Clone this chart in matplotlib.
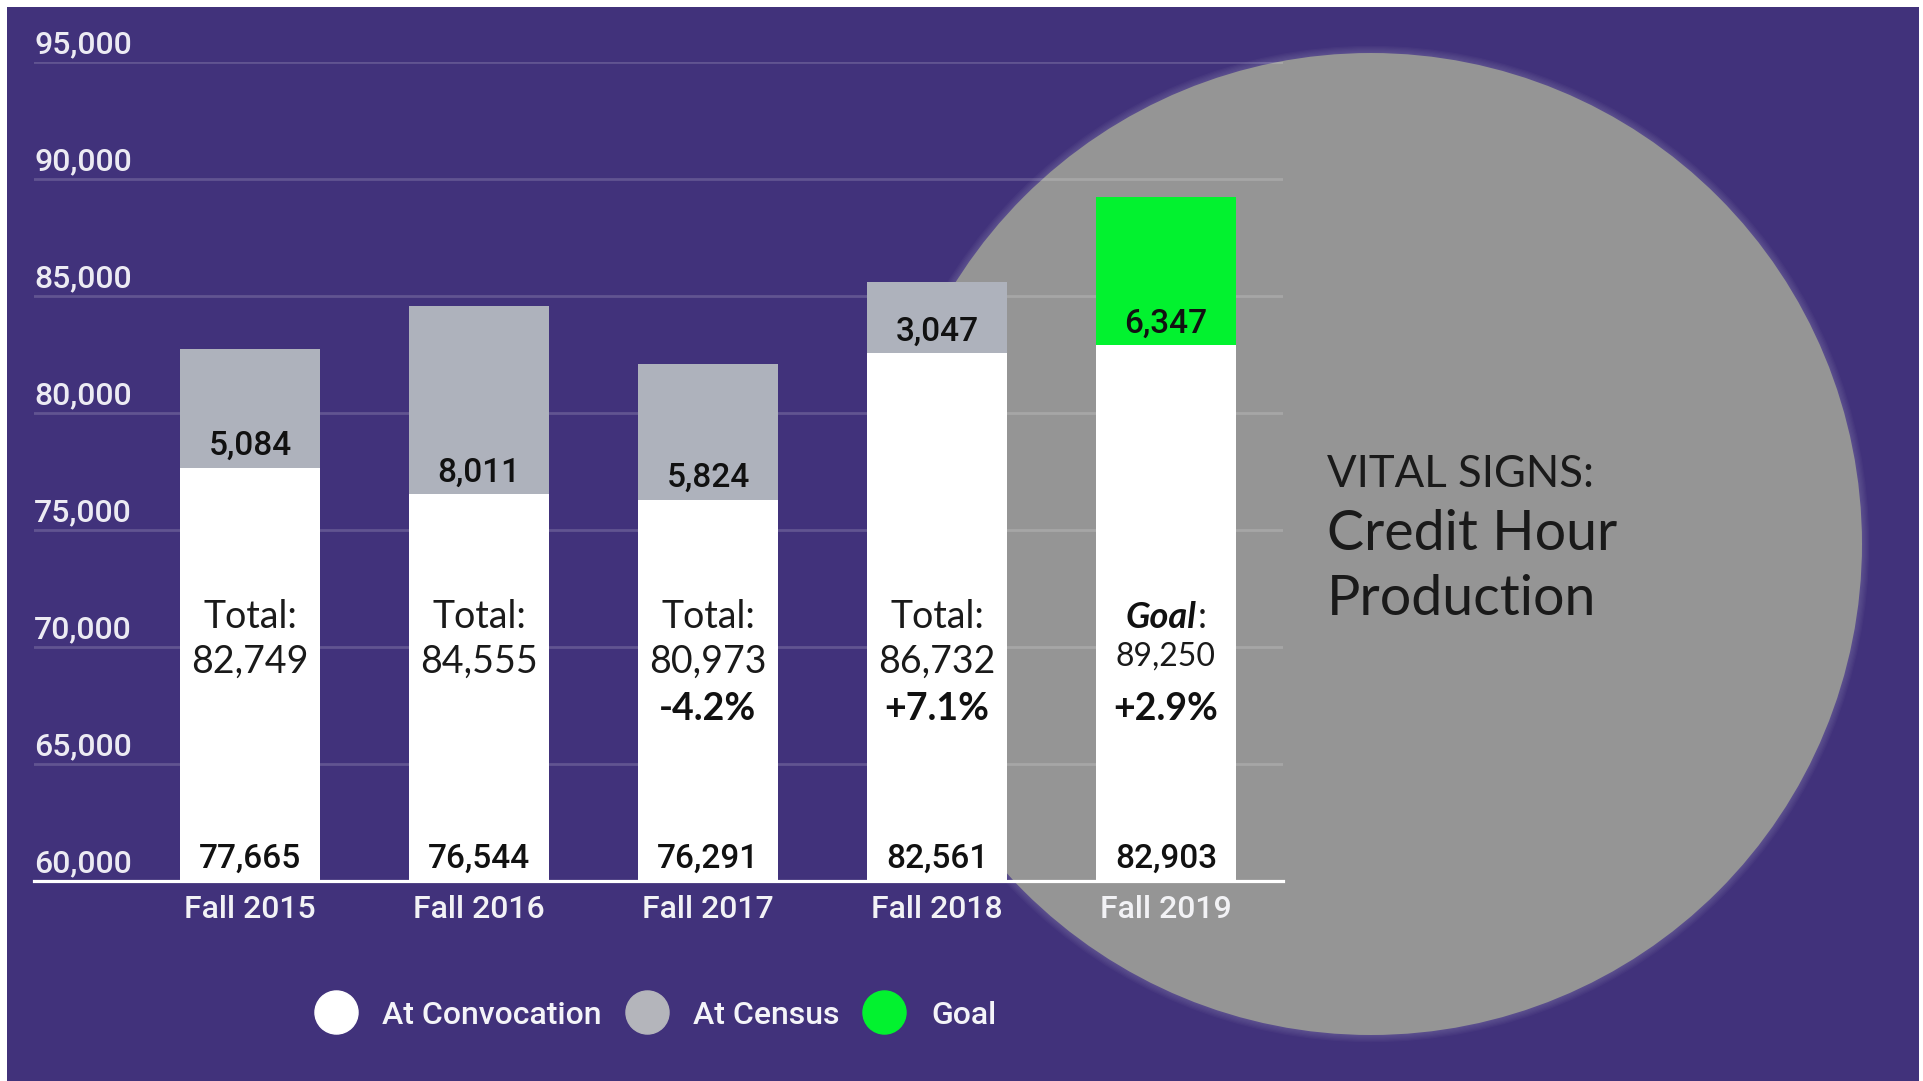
import matplotlib
matplotlib.use("Agg")
import matplotlib.pyplot as plt
from matplotlib.patches import Rectangle, Circle
from matplotlib.lines import Line2D
from matplotlib.transforms import blended_transform_factory

# ---------------- data ----------------
categories = ["Fall 2015", "Fall 2016", "Fall 2017", "Fall 2018", "Fall 2019"]
at_convocation = [77665, 76544, 76291, 82561, 82903]
at_census = [5084, 8011, 5824, 3047, 0]
goal = [0, 0, 0, 0, 6347]
totals = [82749, 84555, 80973, 86732, 89250]
changes = ["", "", "-4.2%", "+7.1%", "+2.9%"]
y_ticks = [60000, 65000, 70000, 75000, 80000, 85000, 90000, 95000]
legend_labels = ["At Convocation", "At Census", "Goal"]
title_lines = ["VITAL SIGNS:", "Credit Hour", "Production"]

# ---------------- style ----------------
PURPLE = "#41327b"
WHITE = "#ffffff"
CENSUS = "#aeb2bc"
GREEN = "#02f22f"
CIRCLE = "#959595"
NUMF = "Roboto"
TXTF = "Lato"
DARK = "#1a1a1a"

W, H = 1923, 1081
fig = plt.figure(figsize=(W / 100, H / 100), dpi=100)
fig.patch.set_facecolor("white")

# background layer in pixel units
bg = fig.add_axes([0, 0, 1, 1])
bg.set_xlim(0, W)
bg.set_ylim(H, 0)
bg.axis("off")
bg.add_patch(Rectangle((7, 7), W - 11, H - 7, color=PURPLE, lw=0))
cx, cy, r = 1371, 544, 491
for k in range(6, 0, -1):
    bg.add_patch(Circle((cx, cy), r + k * 1.2, color="#a49fc2", alpha=0.05, lw=0))
bg.add_patch(Circle((cx, cy), r, color=CIRCLE, lw=0))

# main axes
x0, x1, ytop, ybot = 34, 1283, 62, 881
ax = fig.add_axes([x0 / W, (H - ybot) / H, (x1 - x0) / W, (ybot - ytop) / H])
ax.patch.set_alpha(0)
ax.set_ylim(60000, 95000)
ax.set_xlim(-0.943, 4.511)

xs = list(range(len(categories)))
bw = 0.611
ax.bar(xs, at_convocation, bottom=0, width=bw, color=WHITE, zorder=3)
ax.bar(xs, at_census, bottom=at_convocation, width=bw, color=CENSUS, zorder=3)
ax.bar(xs, goal, bottom=at_convocation, width=bw, color=GREEN, zorder=3)

ax.set_yticks(y_ticks)
ax.yaxis.grid(True, color="white", alpha=0.17, lw=2)
ax.set_axisbelow(True)
ax.tick_params(axis="y", length=0, labelleft=False)
ax.tick_params(axis="x", length=0, pad=10)
ax.set_xticks(xs)
ax.set_xticklabels(categories, fontfamily=NUMF, fontweight="medium", fontsize=23, color="#f2f2f5")
for s in ["left", "right", "top"]:
    ax.spines[s].set_visible(False)
ax.spines["bottom"].set_color("white")
ax.spines["bottom"].set_linewidth(2.3)
ax.spines["bottom"].set_zorder(4)

# y tick labels (above gridlines, left aligned)
for v in y_ticks:
    ax.annotate(f"{v:,}", xy=(0, v), xycoords=("axes fraction", "data"),
                xytext=(0, 6.5), textcoords="offset points", ha="left", va="baseline",
                fontfamily=NUMF, fontweight="medium", fontsize=23, color="#ecebf3")

# segment labels
for i in xs:
    seg = at_census[i] if at_census[i] else goal[i]
    ax.annotate(f"{seg:,}", xy=(i, at_convocation[i]), xytext=(0, 15.5),
                textcoords="offset points", ha="center", va="center",
                fontfamily=NUMF, fontweight="medium", fontsize=24, color="#111111", zorder=5)
    ax.annotate(f"{at_convocation[i]:,}", xy=(i, 60000), xytext=(0, 16),
                textcoords="offset points", ha="center", va="center",
                fontfamily=NUMF, fontweight="medium", fontsize=24, color="#111111", zorder=5)

# middle texts
tr = blended_transform_factory(ax.transData, ax.transAxes)
for i in xs:
    if goal[i]:
        ax.annotate("Goal", xy=(i, 0.309), xycoords=tr, xytext=(22, 0), textcoords="offset points",
                    ha="right", va="baseline", fontfamily=TXTF, fontweight="bold", fontstyle="italic",
                    fontsize=26, color="#111111", zorder=5)
        ax.annotate(":", xy=(i, 0.309), xycoords=tr, xytext=(23, 0), textcoords="offset points",
                    ha="left", va="baseline", fontfamily=TXTF, fontweight="normal",
                    fontsize=26, color=DARK, zorder=5)
        ax.text(i, 0.2625, f"{totals[i]:,}", transform=tr, ha="center", va="baseline",
                fontfamily=TXTF, fontweight="normal", fontsize=23, color=DARK, zorder=5)
    else:
        ax.text(i, 0.309, "Total:", transform=tr, ha="center", va="baseline",
                fontfamily=TXTF, fontweight="normal", fontsize=27, color=DARK, zorder=5)
        ax.text(i, 0.254, f"{totals[i]:,}", transform=tr, ha="center", va="baseline",
                fontfamily=TXTF, fontweight="normal", fontsize=27, color=DARK, zorder=5)
    if changes[i]:
        ax.text(i, 0.196, changes[i], transform=tr, ha="center", va="baseline",
                fontfamily=TXTF, fontweight="bold", fontsize=27, color="#111111", zorder=5)

# title
fig.text(1327 / W, 1 - 487 / H, title_lines[0], ha="left", va="baseline",
         fontfamily=TXTF, fontweight="normal", fontsize=31.5, color=DARK)
fig.text(1327 / W, 1 - 550 / H, title_lines[1], ha="left", va="baseline",
         fontfamily=TXTF, fontweight="normal", fontsize=40, color=DARK)
fig.text(1327 / W, 1 - 615 / H, title_lines[2], ha="left", va="baseline",
         fontfamily=TXTF, fontweight="normal", fontsize=40, color=DARK)

# legend
handles = [Line2D([], [], ls="none", marker="o", markersize=31, markerfacecolor=c, markeredgecolor=c)
           for c in [WHITE, "#b4b5bb", GREEN]]
leg = fig.legend(handles, legend_labels, loc="center", ncol=3, frameon=False,
                 bbox_to_anchor=(654 / W, 1 - 1015 / H), bbox_transform=fig.transFigure,
                 handlelength=1.5, handletextpad=0.71, columnspacing=0.65, borderpad=0,
                 prop={"family": NUMF, "weight": "medium", "size": 23})
for t in leg.get_texts():
    t.set_color("#f4f4f8")

fig.savefig("out.png", dpi=100, facecolor=fig.get_facecolor())
